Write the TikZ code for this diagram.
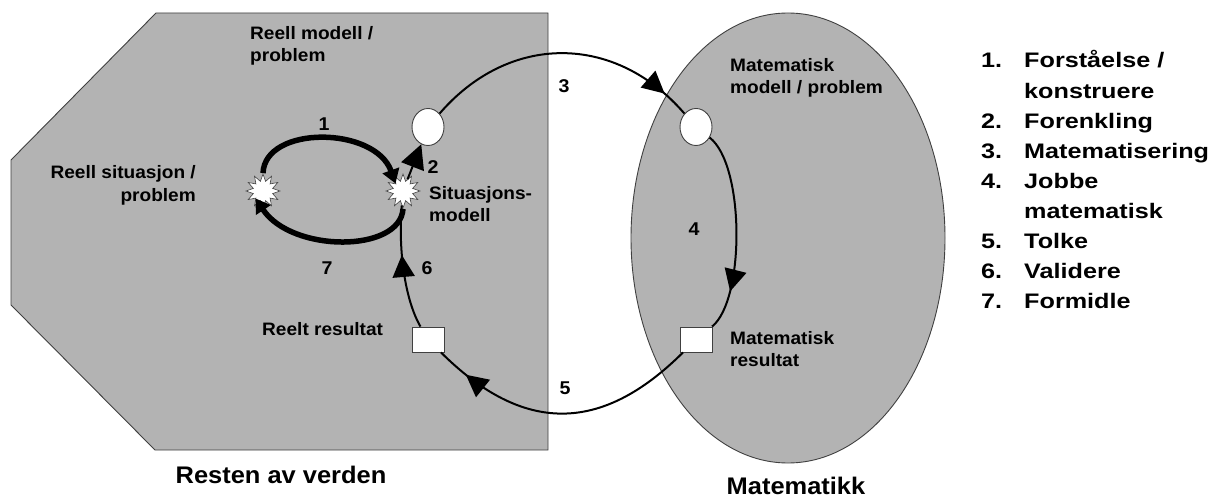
\documentclass[tikz,border=0pt]{standalone}
\usepackage{fontspec}
\setmainfont{Liberation Sans}
\newfontfamily\labfont[FakeStretch=1.06]{Liberation Sans}
\newfontfamily\legfont[FakeStretch=1.2]{Liberation Sans}
\usetikzlibrary{arrows.meta,shapes.geometric,decorations.markings}
\definecolor{regiongray}{RGB}{179,179,179}
\definecolor{edgegray}{RGB}{64,64,64}
\begin{document}
\begin{tikzpicture}[x=1pt,y=-1pt,
  region/.style={fill=regiongray,draw=edgegray,line width=0.9pt},
  circ/.style={ellipse,draw=edgegray,fill=white,line width=0.9pt,minimum width=32pt,minimum height=37pt,inner sep=0pt},
  sqbox/.style={rectangle,draw=edgegray,fill=white,line width=0.9pt,minimum width=32pt,minimum height=25pt,inner sep=0pt},
  burst/.style={star,star points=12,star point ratio=1.7,draw=edgegray,fill=white,line width=0.6pt,minimum size=34pt,inner sep=0pt},
  loopline/.style={draw=black,line width=2pt},
  midarrow/.style={postaction={decorate,decoration={markings,mark=at position #1 with {\arrow{Triangle[length=22pt,width=22pt]}}}}},
  bigarrow/.style={draw=black,line width=5.5pt,line cap=butt,-{Triangle[length=14pt,width=17pt]}},
  lab/.style={font=\labfont\bfseries\fontsize{18}{22}\selectfont,inner sep=0pt},
  num/.style={font=\labfont\bfseries\fontsize{18.5}{22}\selectfont,inner sep=0pt},
  title/.style={font=\labfont\bfseries\fontsize{24}{28}\selectfont,inner sep=0pt}
]
\useasboundingbox (0,0) rectangle (1215,497);

% regions
\filldraw[region] (156,13) -- (548,13) -- (548,450) -- (155,450) -- (11,305) -- (11,160) -- cycle;
\filldraw[region] (788,238) ellipse [x radius=157, y radius=225];

% nodes of the cycle
\node[circ] (L) at (428,127) {};
\node[circ] (R) at (696,127) {};
\node[sqbox] (LS) at (428,339.5) {};
\node[sqbox] (RS) at (696,339.5) {};
\node[burst] (S1) at (263,191) {};
\node[burst] (S2) at (403,191) {};

% main loop
\draw[loopline,midarrow=0.9] (L) .. controls (509,33) and (615,33) .. (R);
\draw[loopline,midarrow=0.8] (R) .. controls (745,165) and (745,300) .. (RS);
\draw[loopline,midarrow=0.88] (RS) .. controls (601,434) and (523,434) .. (LS);
\draw[loopline,midarrow=0.6] (LS) .. controls (405,300) and (398,250) .. (S2);
\draw[loopline,-{Triangle[length=24pt,width=24pt]}] (S2) -- (L);

% small loop
\draw[bigarrow] (S1.north) .. controls (265,125) and (375,126) .. (S2.north west);
\draw[bigarrow] (S2.south) .. controls (400,253) and (292,253) .. (S1.south west);

% labels
\node[lab,anchor=base west,align=left] (tRM) at (250,62) {Reell modell /\\problem};
\node[lab,anchor=base east,align=right] (tRS) at (196,201) {Reell situasjon /\\problem};
\node[lab,anchor=base west,align=left] (tSM) at (429,222) {Situasjons-\\modell};
\node[lab,anchor=base west] (tRR) at (262,335) {Reelt resultat};
\node[lab,anchor=base west,align=left] (tMM) at (730,94) {Matematisk\\modell / problem};
\node[lab,anchor=base west,align=left] (tMR) at (730,366) {Matematisk\\resultat};

\node[num] (n1) at (324,124) {1};
\node[num] (n2) at (433,167) {2};
\node[num] (n3) at (564,86) {3};
\node[num] (n4) at (694,229) {4};
\node[num] (n5) at (565,388) {5};
\node[num] (n6) at (427,268) {6};
\node[num] (n7) at (327,268) {7};

\node[title,anchor=base] (tRV) at (281,483) {Resten av verden};
\node[title,anchor=base] (tMa) at (796,494) {Matematikk};

% legend
\node[inner sep=0pt,anchor=base west] (legend) at (981,68) {\legfont\bfseries\fontsize{21}{30.1}\selectfont
\begin{tabular}[t]{@{}r@{\hspace{22pt}}l@{}}
1. & Forståelse /\\
   & konstruere\\
2. & Forenkling\\
3. & Matematisering\\
4. & Jobbe\\
   & matematisk\\
5. & Tolke\\
6. & Validere\\
7. & Formidle
\end{tabular}};
\end{tikzpicture}
\end{document}
